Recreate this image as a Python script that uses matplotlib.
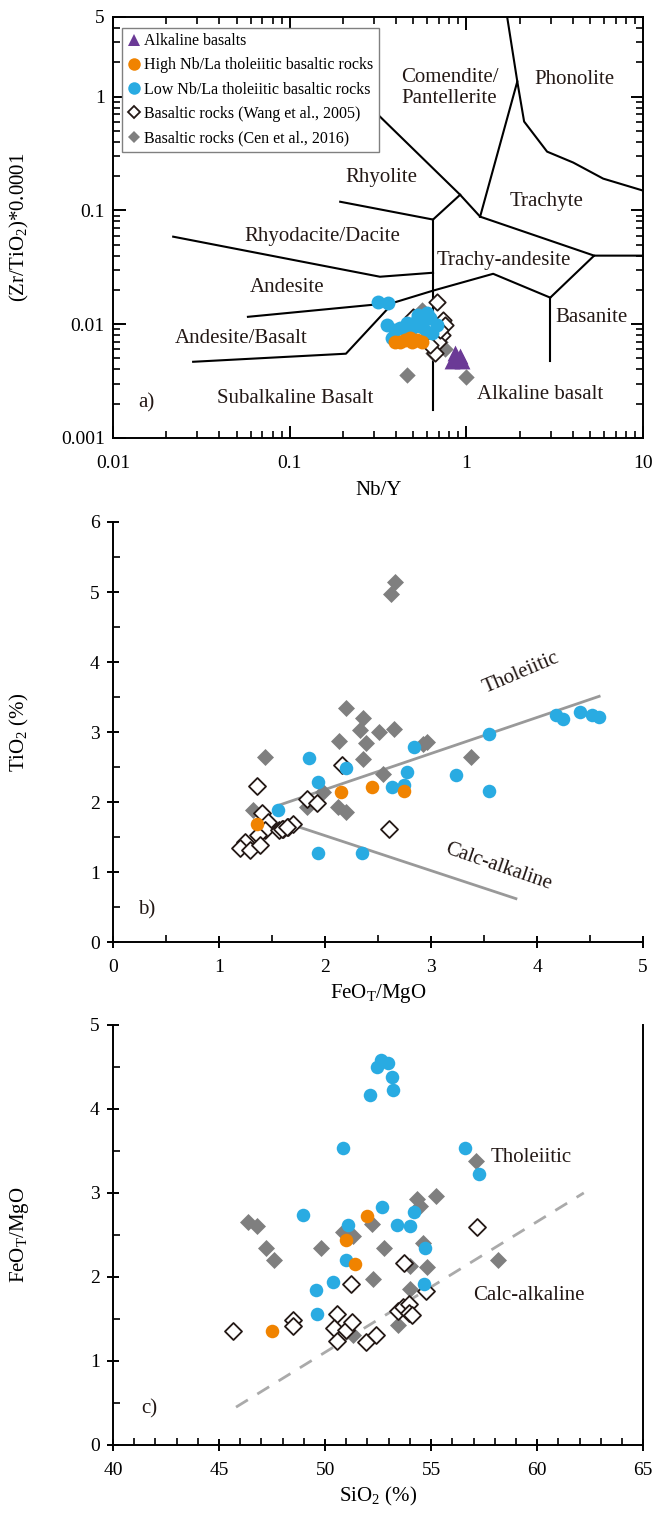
import matplotlib.pyplot as plt
from matplotlib.ticker import MultipleLocator, LogLocator, FixedLocator, FixedFormatter, NullFormatter
from matplotlib.lines import Line2D

# ---- panel a: Zr/TiO2 vs Nb/Y ----
a_alk_nby = [0.863, 0.921, 0.83, 0.944]
a_alk_zr = [0.0056, 0.0052, 0.0047, 0.0047]
a_high_nby = [0.395, 0.421, 0.45, 0.48, 0.526, 0.561, 0.49]
a_high_zr = [0.0070, 0.0069, 0.0073, 0.0076, 0.0073, 0.0070, 0.0070]
a_low_nby = [0.316, 0.361, 0.356, 0.38, 0.421, 0.461, 0.499, 0.532, 0.598, 0.622,
             0.682, 0.561, 0.598, 0.526, 0.569, 0.64, 0.48, 0.395]
a_low_zr = [0.0157, 0.0154, 0.0099, 0.0076, 0.0093, 0.0103, 0.0095, 0.0121, 0.0126, 0.0114,
            0.0099, 0.0095, 0.0086, 0.0109, 0.0105, 0.0084, 0.0089, 0.0089]
a_wang_nby = [0.683, 0.738, 0.757, 0.727, 0.692, 0.665, 0.499, 0.622, 0.71]
a_wang_zr = [0.0157, 0.0109, 0.0099, 0.0081, 0.0069, 0.0056, 0.0116, 0.0066, 0.0089]
a_cen_nby = [0.561, 0.71, 0.757, 0.647, 0.461, 0.995]
a_cen_zr = [0.0134, 0.0069, 0.0060, 0.0056, 0.0036, 0.00345]

# field boundaries (Nb/Y, Zr/TiO2*0.0001)
a_bounds = [
    [(0.0219, 0.0587), (0.324, 0.0261), (0.647, 0.0283)],
    [(0.193, 0.119), (0.647, 0.083)],
    [(0.114, 3.24), (0.921, 0.137), (1.195, 0.088)],
    [(0.647, 0.083), (0.921, 0.137)],
    [(0.647, 0.083), (0.647, 0.00177)],
    [(1.70, 5.0), (1.94, 1.355), (1.195, 0.088)],
    [(1.94, 1.355), (2.12, 0.603), (2.86, 0.328), (4.02, 0.263), (5.94, 0.190), (10, 0.149)],
    [(1.195, 0.088), (5.28, 0.040)],
    [(0.385, 0.0154), (0.647, 0.0197), (1.416, 0.0277), (2.98, 0.0171)],
    [(2.98, 0.0171), (5.28, 0.040), (10, 0.040)],
    [(2.98, 0.0171), (2.98, 0.0047)],
    [(0.058, 0.0116), (0.385, 0.0154)],
    [(0.0284, 0.00467), (0.208, 0.0055), (0.385, 0.0154)],
]
a_fields = ["Comendite/\nPantellerite", "Phonolite", "Rhyolite", "Trachyte",
            "Rhyodacite/Dacite", "Trachy-andesite", "Andesite", "Basanite",
            "Andesite/Basalt", "Subalkaline Basalt", "Alkaline basalt"]
a_field_pos = [(0.808, 1.19), (4.06, 1.41), (0.331, 0.194), (2.85, 0.12),
               (0.152, 0.0587), (1.627, 0.0363), (0.097, 0.0208), (5.12, 0.01155),
               (0.0529, 0.00755), (0.1076, 0.00224), (2.61, 0.00239)]

# ---- panel b: TiO2 vs FeOT/MgO ----
b_high_x = [1.355, 2.148, 2.443, 2.74]
b_high_y = [1.69, 2.15, 2.21, 2.16]
b_low_x = [1.849, 2.837, 2.198, 2.777, 1.937, 2.63, 2.74, 1.56, 1.93, 2.35,
           4.18, 4.24, 4.40, 4.52, 4.58, 3.55, 3.236, 3.55]
b_low_y = [2.63, 2.79, 2.48, 2.43, 2.28, 2.22, 2.24, 1.88, 1.27, 1.27,
           3.24, 3.19, 3.28, 3.25, 3.21, 2.97, 2.39, 2.16]
b_wang_x = [1.355, 2.157, 1.833, 1.927, 2.607, 1.403, 1.465, 1.434, 1.37, 1.566,
            1.607, 1.654, 1.70, 1.245, 1.198, 1.292, 1.387, 1.591, 1.638]
b_wang_y = [2.23, 2.53, 2.05, 1.99, 1.61, 1.84, 1.72, 1.60, 1.53, 1.60,
            1.62, 1.65, 1.68, 1.43, 1.34, 1.31, 1.39, 1.62, 1.65]
b_cen_x = [2.66, 2.62, 2.198, 2.355, 2.33, 2.51, 2.65, 2.135, 2.387, 2.96,
           1.437, 2.355, 2.544, 1.984, 1.827, 2.126, 2.2, 1.318, 3.377, 2.92]
b_cen_y = [5.14, 4.97, 3.34, 3.20, 3.03, 3.00, 3.04, 2.87, 2.84, 2.86,
           2.65, 2.61, 2.40, 2.15, 1.93, 1.93, 1.86, 1.89, 2.64, 2.83]
b_thol_line = ([1.575, 4.585], [1.96, 3.51])
b_calc_line = ([1.70, 3.80], [1.67, 0.62])

# ---- panel c: FeOT/MgO vs SiO2 ----
c_high_x = [52.0, 50.98, 51.39, 47.48]
c_high_y = [2.73, 2.44, 2.15, 1.36]
c_low_x = [52.64, 52.99, 52.44, 53.15, 53.22, 52.14, 50.85, 56.6, 57.26, 48.98, 51.07,
           52.70, 53.40, 54.0, 54.2, 54.73, 51.0, 50.36, 49.58, 54.65, 49.61]
c_low_y = [4.58, 4.55, 4.50, 4.38, 4.23, 4.17, 3.54, 3.54, 3.23, 2.74, 2.62,
           2.83, 2.62, 2.61, 2.77, 2.34, 2.20, 1.94, 1.85, 1.92, 1.56]
c_wang_x = [45.67, 48.51, 48.51, 51.24, 50.55, 50.42, 50.98, 51.29, 50.55, 51.93,
            52.39, 53.74, 53.46, 53.69, 53.98, 53.98, 54.12, 54.76, 57.17]
c_wang_y = [1.36, 1.49, 1.41, 1.92, 1.56, 1.39, 1.37, 1.46, 1.24, 1.22,
            1.31, 2.16, 1.60, 1.64, 1.68, 1.57, 1.55, 1.83, 2.60]
c_cen_x = [46.38, 46.78, 47.22, 47.59, 49.81, 50.86, 51.34, 52.20, 52.80, 52.28, 54.32,
           54.48, 55.24, 54.64, 54.0, 54.80, 54.0, 53.46, 51.34, 57.12, 58.16]
c_cen_y = [2.65, 2.61, 2.35, 2.20, 2.35, 2.54, 2.49, 2.63, 2.34, 1.97, 2.93,
           2.85, 2.96, 2.40, 2.13, 2.12, 1.86, 1.43, 1.31, 3.38, 2.20]
c_div_line = ([45.8, 62.2], [0.45, 3.0])

BLUE = "#29abe2"
ORANGE = "#f08300"
PURPLE = "#6b3a96"
GRAY = "#7f7f7f"
DARK = "#231815"
FS = 15  # field / axis label size

plt.rcParams['font.family'] = ['Liberation Serif', 'DejaVu Serif']
plt.rcParams['mathtext.fontset'] = 'custom'
plt.rcParams['mathtext.rm'] = 'Liberation Serif'
plt.rcParams['mathtext.it'] = 'Liberation Serif:italic'
plt.rcParams['font.size'] = 14
plt.rcParams['axes.linewidth'] = 1.4


def groups(ax, cen, wang, low, high, s_circ=95, s_dia=75):
  ax.scatter(*cen, marker='D', s=s_dia, color=GRAY, lw=0, zorder=3,
             label="Basaltic rocks (Cen et al., 2016)")
  ax.scatter(*wang, marker='D', s=s_dia, facecolor='white', edgecolor=DARK, lw=1.3, zorder=4,
             label="Basaltic rocks (Wang et al., 2005)")
  ax.scatter(*low, marker='o', s=s_circ, color=BLUE, lw=0, zorder=5,
             label="Low Nb/La tholeiitic basaltic rocks")
  ax.scatter(*high, marker='o', s=s_circ, color=ORANGE, lw=0, zorder=6,
             label="High Nb/La tholeiitic basaltic rocks")


def main():
  fig = plt.figure(figsize=(6.61, 15.17), dpi=100, facecolor='white')

  # ---------------- a ----------------
  ax1 = fig.add_axes([0.171, 0.7113, 0.802, 0.2775])
  ax1.set_xscale('log')
  ax1.set_yscale('log')
  ax1.set_xlim(0.01, 10)
  ax1.set_ylim(0.001, 5)
  for seg in a_bounds:
    ax1.plot([p[0] for p in seg], [p[1] for p in seg], color='black', lw=1.5, zorder=2)
  for name, (x, y) in zip(a_fields, a_field_pos):
    ax1.text(x, y, name, ha='center', va='center', fontsize=FS, color=DARK,
             linespacing=1.2, multialignment='left', zorder=2)
  ax1.text(0.0154, 0.00202, "a)", ha='center', va='center', fontsize=FS, color=DARK)
  groups(ax1, (a_cen_nby, a_cen_zr), (a_wang_nby, a_wang_zr),
         (a_low_nby, a_low_zr), (a_high_nby, a_high_zr), s_circ=100, s_dia=70)
  ax1.scatter(a_alk_nby, a_alk_zr, marker='^', s=130, color=PURPLE, lw=0, zorder=7,
              label="Alkaline basalts")
  ax1.xaxis.set_major_locator(FixedLocator([0.01, 0.1, 1, 10]))
  ax1.xaxis.set_major_formatter(FixedFormatter(["0.01", "0.1", "1", "10"]))
  ax1.yaxis.set_major_locator(FixedLocator([0.001, 0.01, 0.1, 1, 5]))
  ax1.yaxis.set_major_formatter(FixedFormatter(["0.001", "0.01", "0.1", "1", "5"]))
  ax1.xaxis.set_minor_locator(LogLocator(base=10, subs=range(2, 10)))
  ax1.yaxis.set_minor_locator(LogLocator(base=10, subs=range(2, 10)))
  ax1.xaxis.set_minor_formatter(NullFormatter())
  ax1.yaxis.set_minor_formatter(NullFormatter())
  ax1.tick_params(which='both', direction='in', top=True, right=True, labelsize=14)
  ax1.tick_params(which='major', length=9, width=1.4)
  ax1.tick_params(which='minor', length=5, width=1.2)
  ax1.tick_params(axis='x', which='major', pad=12)
  ax1.tick_params(axis='y', which='major', pad=6)
  ax1.set_xlabel("Nb/Y", fontsize=FS, labelpad=7)
  ax1.set_ylabel("(Zr/TiO$_2$)*0.0001", fontsize=FS)
  ax1.yaxis.set_label_coords(-0.155, 0.5)

  h = [
    Line2D([], [], ls='none', marker='^', ms=9, color=PURPLE, mew=0),
    Line2D([], [], ls='none', marker='o', ms=9, color=ORANGE, mew=0),
    Line2D([], [], ls='none', marker='o', ms=9, color=BLUE, mew=0),
    Line2D([], [], ls='none', marker='D', ms=6.5, mfc='white', mec=DARK, mew=1.3),
    Line2D([], [], ls='none', marker='D', ms=6.5, color=GRAY, mew=0),
  ]
  labels = ["Alkaline basalts", "High Nb/La tholeiitic basaltic rocks",
            "Low Nb/La tholeiitic basaltic rocks", "Basaltic rocks (Wang et al., 2005)",
            "Basaltic rocks (Cen et al., 2016)"]
  leg = ax1.legend(h, labels, loc='upper left', bbox_to_anchor=(0.017, 0.975), fontsize=11.5,
                   frameon=True, fancybox=False, edgecolor='#808080', framealpha=1,
                   handlelength=0.8, handletextpad=0.25, labelspacing=0.52,
                   borderpad=0.35, borderaxespad=0)
  leg.get_frame().set_linewidth(1.0)
  leg.set_zorder(10)

  # ---------------- b ----------------
  ax2 = fig.add_axes([0.171, 0.379, 0.802, 0.2769])
  ax2.set_xlim(0, 5)
  ax2.set_ylim(0, 6)
  ax2.plot(*b_thol_line, color='#999999', lw=2, zorder=2)
  ax2.plot(*b_calc_line, color='#999999', lw=2, zorder=2)
  groups(ax2, (b_cen_x, b_cen_y), (b_wang_x, b_wang_y),
         (b_low_x, b_low_y), (b_high_x, b_high_y))
  ax2.text(3.85, 3.84, "Tholeiitic", rotation=23, ha='center', va='center',
           fontsize=FS, color=DARK)
  ax2.text(3.63, 1.07, "Calc-alkaline", rotation=-19, ha='center', va='center',
           fontsize=FS, color=DARK)
  ax2.text(0.32, 0.46, "b)", ha='center', va='center', fontsize=FS, color=DARK)
  ax2.spines["top"].set_visible(False)
  ax2.spines["right"].set_visible(False)
  ax2.xaxis.set_major_locator(MultipleLocator(1))
  ax2.xaxis.set_minor_locator(MultipleLocator(0.5))
  ax2.yaxis.set_major_locator(MultipleLocator(1))
  ax2.yaxis.set_minor_locator(MultipleLocator(0.5))
  ax2.tick_params(which='major', direction='inout', length=9, width=1.4, labelsize=14)
  ax2.tick_params(which='minor', direction='in', length=5, width=1.2)
  ax2.tick_params(axis='x', which='major', pad=8)
  ax2.tick_params(axis='y', which='major', pad=5)
  ax2.set_xlabel("FeO$_\\mathrm{T}$/MgO", fontsize=FS, labelpad=4)
  ax2.set_ylabel("TiO$_2$ (%)", fontsize=FS)
  ax2.yaxis.set_label_coords(-0.155, 0.5)

  # ---------------- c ----------------
  ax3 = fig.add_axes([0.171, 0.0475, 0.802, 0.2769])
  ax3.set_xlim(40, 65)
  ax3.set_ylim(0, 5)
  ax3.plot(*c_div_line, color='#aaaaaa', lw=2, ls=(0, (5, 4)), zorder=2)
  groups(ax3, (c_cen_x, c_cen_y), (c_wang_x, c_wang_y),
         (c_low_x, c_low_y), (c_high_x, c_high_y))
  ax3.text(59.7, 3.42, "Tholeiitic", ha='center', va='center', fontsize=FS, color=DARK)
  ax3.text(59.6, 1.78, "Calc-alkaline", ha='center', va='center', fontsize=FS, color=DARK)
  ax3.text(41.7, 0.43, "c)", ha='center', va='center', fontsize=FS, color=DARK)
  ax3.spines["top"].set_visible(False)
  ax3.xaxis.set_major_locator(MultipleLocator(5))
  ax3.xaxis.set_minor_locator(MultipleLocator(1))
  ax3.yaxis.set_major_locator(MultipleLocator(1))
  ax3.yaxis.set_minor_locator(MultipleLocator(0.5))
  ax3.tick_params(which='major', direction='inout', length=9, width=1.4, labelsize=14)
  ax3.tick_params(which='minor', direction='in', length=5, width=1.2)
  ax3.tick_params(axis='x', which='major', pad=8)
  ax3.tick_params(axis='y', which='major', pad=5)
  ax3.set_xlabel("SiO$_2$ (%)", fontsize=FS, labelpad=4)
  ax3.set_ylabel("FeO$_\\mathrm{T}$/MgO", fontsize=FS)
  ax3.yaxis.set_label_coords(-0.155, 0.5)

  fig.savefig("out.png", dpi=100)


if __name__ == '__main__':
  main()
